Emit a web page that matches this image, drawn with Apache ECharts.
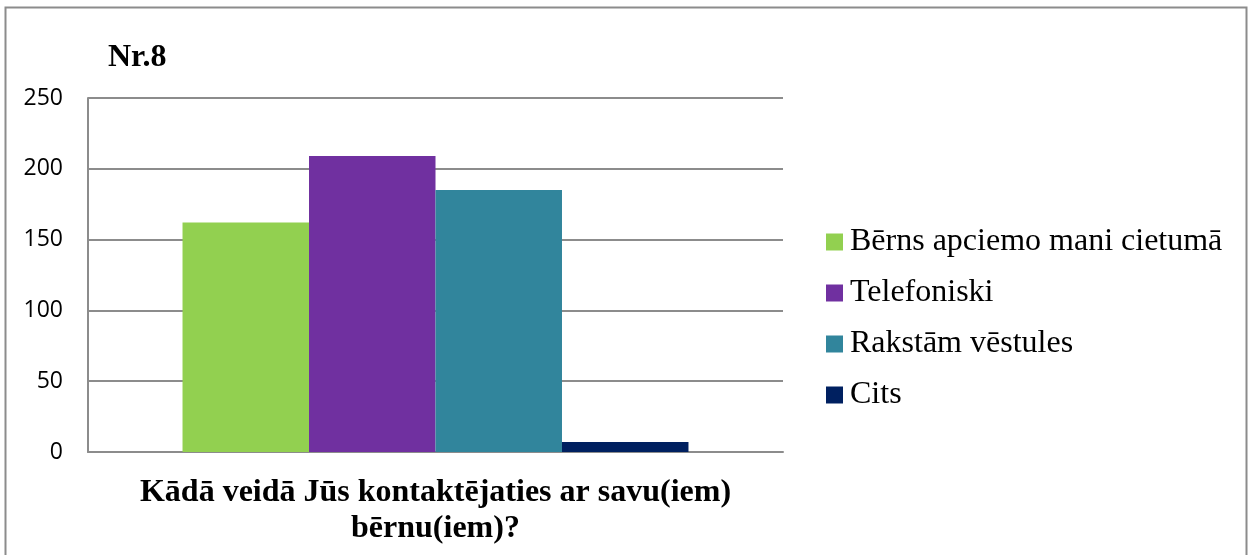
<!DOCTYPE html>
<html>
<head>
<meta charset="utf-8">
<title>Nr.8</title>
<script src="https://cdn.jsdelivr.net/npm/echarts@6/dist/echarts.min.js"></script>
<style>
  html, body { margin: 0; padding: 0; background: #fff; }
  #chart { width: 1254px; height: 555px; }
</style>
</head>
<body>
<div id="chart"></div>
<script>
// dati
var categories = ['Kādā veidā Jūs kontaktējaties ar savu(iem)\nbērnu(iem)?'];
var seriesNames = ['Bērns apciemo mani cietumā', 'Telefoniski', 'Rakstām vēstules', 'Cits'];
var seriesValues = [[162], [209], [185], [7]];
var seriesColors = ['#92D050', '#7030A0', '#31859C', '#002060'];
var yTicks = { min: 0, max: 250, interval: 50 };

var chart = echarts.init(document.getElementById('chart'));

var series = seriesNames.map(function (name, i) {
    return {
        name: name,
        type: 'bar',
        data: seriesValues[i],
        itemStyle: { color: seriesColors[i] },
        barGap: '0%',
        barCategoryGap: '27.2%'
    };
});

chart.setOption({
    animation: false,
    title: {
        text: 'Nr.8',
        left: 103,
        top: 37,
        textStyle: { fontFamily: 'Liberation Serif', fontWeight: 'bold', fontSize: 32, color: '#000' }
    },
    // rāmis ap diagrammu
    graphic: [{
        type: 'rect',
        shape: { x: 5.5, y: 7.5, width: 1241, height: 560 },
        style: { fill: null, stroke: '#8c8c8c', lineWidth: 2 },
        silent: true
    }],
    legend: {
        orient: 'vertical',
        left: 821,
        top: 221,
        itemWidth: 17,
        itemHeight: 17,
        itemGap: 19,
        icon: 'rect',
        textStyle: { fontFamily: 'Liberation Serif', fontSize: 32, lineHeight: 31, color: '#000', padding: [0, 0, 0, 2] },
        data: seriesNames
    },
    grid: { left: 88, right: 471, top: 98, bottom: 103, outerBoundsMode: 'none' },
    xAxis: {
        type: 'category',
        data: categories,
        axisLine: { lineStyle: { color: '#8c8c8c', width: 2 } },
        axisTick: { show: false },
        axisLabel: { show: false },
        name: categories[0],
        nameLocation: 'middle',
        nameGap: 23,
        nameTextStyle: {
            fontFamily: 'Liberation Serif', fontWeight: 'bold', fontSize: 32, color: '#000',
            lineHeight: 36
        }
    },
    yAxis: {
        type: 'value',
        min: yTicks.min,
        max: yTicks.max,
        interval: yTicks.interval,
        axisLine: { show: true, lineStyle: { color: '#8c8c8c', width: 2 } },
        axisTick: { show: false },
        axisLabel: { margin: 25, fontFamily: 'Open Sans', fontSize: 23, color: '#000' },
        splitLine: { lineStyle: { color: '#8c8c8c', width: 2 } }
    },
    series: series
});
</script>
</body>
</html>
